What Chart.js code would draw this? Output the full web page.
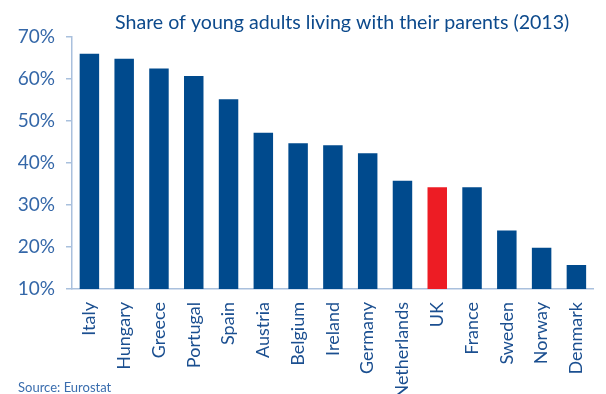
<!DOCTYPE html>
<html>
<head>
<meta charset="utf-8">
<script src="https://cdn.jsdelivr.net/npm/chart.js@4.4.1/dist/chart.umd.min.js"></script>
<style>
  html, body { margin: 0; padding: 0; background: #fff; overflow: hidden; }
  #wrap { width: 611px; height: 394px; }
</style>
</head>
<body>
<div id="wrap"><canvas id="chart" width="611" height="394"></canvas></div>
<script>
// data
const countries = ['Italy', 'Hungary', 'Greece', 'Portugal', 'Spain', 'Austria', 'Belgium', 'Ireland',
                   'Germany', 'Netherlands', 'UK', 'France', 'Sweden', 'Norway', 'Denmark'];
const shares = [66.0, 64.8, 62.5, 60.7, 55.2, 47.2, 44.7, 44.2, 42.3, 35.8, 34.2, 34.2, 23.9, 19.8, 15.7];
const highlighted = ['UK'];
const yTicks = [10, 20, 30, 40, 50, 60, 70];
const titleText = 'Share of young adults living with their parents (2013)';
const sourceText = 'Source: Eurostat';

const BLUE = '#004a8d';
const RED = '#ed1c24';
const AXIS = '#a9c0dd';

const barColors = countries.map(c => highlighted.includes(c) ? RED : BLUE);

// title + source are drawn straight onto the canvas
const textPlugin = {
    id: 'textPlugin',
    afterDraw(chart) {
        const ctx = chart.ctx;
        ctx.save();
        ctx.textAlign = 'left';
        ctx.textBaseline = 'alphabetic';
        ctx.fillStyle = '#0d4a8c';
        ctx.font = '19.6px Lato';
        ctx.fillText(titleText, 115, 29);
        ctx.fillStyle = '#3a6dae';
        ctx.font = '13px Lato';
        ctx.fillText(sourceText, 18, 392);
        ctx.restore();
    }
};

const ctx = document.getElementById('chart').getContext('2d');
const chart = new Chart(ctx, {
    type: 'bar',
    data: {
        labels: countries,
        datasets: [{
            data: shares,
            backgroundColor: barColors,
            borderWidth: 0,
            barPercentage: 0.56,
            categoryPercentage: 1
        }]
    },
    options: {
        responsive: false,
        animation: false,
        layout: { padding: { top: 37, right: 0, left: 0, bottom: 0 } },
        plugins: {
            legend: { display: false },
            title: { display: false },
            tooltip: { enabled: false }
        },
        scales: {
            x: {
                grid: { display: false, drawTicks: false },
                border: { display: true, color: AXIS, width: 1.5 },
                ticks: {
                    autoSkip: false,
                    minRotation: 90,
                    maxRotation: 90,
                    padding: 13,
                    color: '#1b4f90',
                    font: { family: 'Lato', size: 18 }
                },
                afterFit(scale) { scale.height = 105; }
            },
            y: {
                min: 10,
                max: 70,
                afterBuildTicks(scale) { scale.ticks = yTicks.map(v => ({ value: v })); },
                grid: { drawOnChartArea: false, drawTicks: true, tickLength: 6, color: AXIS, lineWidth: 1.5 },
                border: { display: true, color: AXIS, width: 1.5 },
                ticks: {
                    padding: 11,
                    color: '#3467a8',
                    font: { family: 'Lato', size: 19 },
                    callback: v => v + '%'
                },
                afterFit(scale) { scale.width = 72; }
            }
        }
    },
    plugins: [textPlugin]
});
</script>
</body>
</html>
